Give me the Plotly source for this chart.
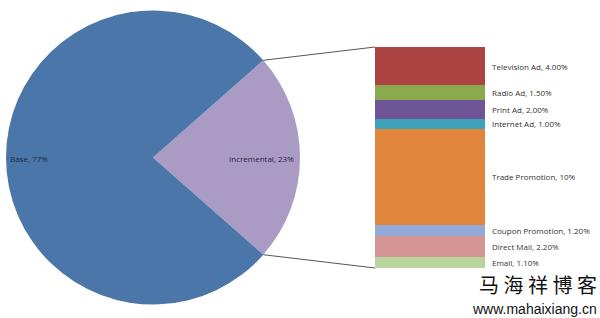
import plotly.graph_objects as go
import math

# Pie data
pie_labels = ["Incremental", "Base"]
pie_values = [23, 77]
pie_colors = ["#A99BC4", "#4A76A9"]

# Breakdown bar data (top to bottom)
bar_labels = ["Television Ad", "Radio Ad", "Print Ad", "Internet Ad",
              "Trade Promotion", "Coupon Promotion", "Direct Mail", "Email"]
bar_values = [4.00, 1.50, 2.00, 1.00, 10.0, 1.20, 2.20, 1.10]
bar_text = ["4.00%", "1.50%", "2.00%", "1.00%", "10%", "1.20%", "2.20%", "1.10%"]
bar_colors = ["#AB4442", "#8BAA4E", "#6E5597", "#3EA2BD",
              "#DF853C", "#93A9D7", "#D59594", "#B9D49D"]

W, H = 600, 318
def px(x): return x / W
def py(y): return 1 - y / H

fig = go.Figure()

# Pie
pie_left, pie_right, pie_top, pie_bottom = 6, 300, 10, 305
inc_angle = pie_values[0] / sum(pie_values) * 360
fig.add_trace(go.Pie(
    labels=pie_labels, values=pie_values, sort=False, direction="clockwise",
    rotation=90 - inc_angle / 2,
    marker=dict(colors=pie_colors, line=dict(color="white", width=0)),
    textinfo="none", hoverinfo="label+percent", showlegend=False,
    domain=dict(x=[px(pie_left), px(pie_right)], y=[py(pie_bottom), py(pie_top)]),
))

# Stacked bar (bottom to top order)
bar_x0, bar_x1, bar_top, bar_bottom = 375, 485, 47, 268
total = sum(bar_values)
cum = 0
for lab, val, txt, col in reversed(list(zip(bar_labels, bar_values, bar_text, bar_colors))):
    fig.add_trace(go.Bar(
        x=[0], y=[val], marker=dict(color=col, line=dict(width=0)), width=1,
        xaxis="x", yaxis="y", showlegend=False, name=lab, hoverinfo="name+y",
    ))
    fig.add_annotation(
        x=0.5, y=cum + val / 2, xref="x", yref="y", text=f"{lab}, {txt}",
        showarrow=False, xanchor="left", yanchor="middle", xshift=5,
        font=dict(family="Open Sans", size=8, color="#333333"),
    )
    cum += val

fig.update_layout(
    barmode="stack",
    xaxis=dict(domain=[px(bar_x0), px(bar_x1)], range=[-0.5, 0.5], visible=False, fixedrange=True),
    yaxis=dict(domain=[py(bar_bottom), py(bar_top)], range=[0, total], visible=False, fixedrange=True),
    width=W, height=H, margin=dict(l=0, r=0, t=0, b=0),
    paper_bgcolor="white", plot_bgcolor="rgba(0,0,0,0)", bargap=0,
)

# Connector lines from pie slice edge to bar corners
cx = (pie_left + pie_right) / 2
cy = (pie_top + pie_bottom) / 2
r = (pie_right - pie_left) / 2
half = math.radians(inc_angle / 2)
ex = cx + r * math.cos(half)
ey_top = cy - r * math.sin(half)
ey_bot = cy + r * math.sin(half)
for (y0, y1) in [(ey_top, bar_top), (ey_bot, bar_bottom)]:
    fig.add_shape(type="line", xref="paper", yref="paper",
                  x0=px(ex), y0=py(y0), x1=px(bar_x0), y1=py(y1),
                  line=dict(color="#555555", width=1))

# Pie labels
fig.add_annotation(x=px(8), y=py(158), xref="paper", yref="paper",
                   text=f"{pie_labels[1]}, {pie_values[1]}%", showarrow=False,
                   xanchor="left", yanchor="middle",
                   font=dict(family="Open Sans", size=8, color="#1F2A44"))
fig.add_annotation(x=px(296), y=py(158), xref="paper", yref="paper",
                   text=f"{pie_labels[0]}, {pie_values[0]}%", showarrow=False,
                   xanchor="right", yanchor="middle",
                   font=dict(family="Open Sans", size=8, color="#2A2440"))

# Watermark
fig.add_annotation(x=px(598), y=py(269), xref="paper", yref="paper",
                   text="马 海 祥 博 客", showarrow=False, xanchor="right", yanchor="top",
                   borderpad=0,
                   font=dict(family="Noto Sans CJK SC", size=20, color="#111111"))
fig.add_annotation(x=px(598), y=py(318), xref="paper", yref="paper",
                   text="www.mahaixiang.cn", showarrow=False, xanchor="right", yanchor="bottom",
                   borderpad=0,
                   font=dict(family="Liberation Sans", size=14, color="#111111"))

fig.write_html("out.html")
